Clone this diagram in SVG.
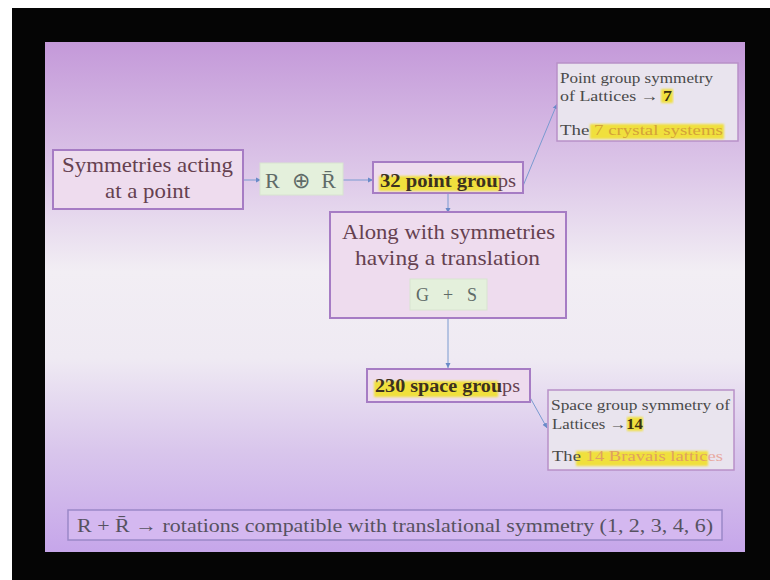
<svg xmlns="http://www.w3.org/2000/svg" width="770" height="580" viewBox="0 0 770 580">
<defs>
<linearGradient id="bg" x1="0" y1="0" x2="0" y2="1">
<stop offset="0" stop-color="#c499d9"/>
<stop offset="0.25" stop-color="#dcc6e8"/>
<stop offset="0.45" stop-color="#f2eef4"/>
<stop offset="0.62" stop-color="#efeaf3"/>
<stop offset="0.8" stop-color="#d9c6ec"/>
<stop offset="1" stop-color="#c6a6ea"/>
</linearGradient>
<marker id="ah" markerWidth="6" markerHeight="6" refX="5" refY="3" orient="auto" markerUnits="userSpaceOnUse">
<path d="M0,0.5 L5,3 L0,5.5 z" fill="#6a8ac8"/>
</marker>
<filter id="soft" x="-5%" y="-20%" width="110%" height="140%"><feGaussianBlur stdDeviation="0.9"/></filter>
</defs>
<style>
.box{fill:#eedcee;stroke:#a67cc4;stroke-width:2}
.gbox{fill:#e4f0dc;stroke:#d8e4d0;stroke-width:1}
.ibox{fill:#e9e4ee;stroke:#b890c8;stroke-width:1.5}
.main{font-family:"Liberation Serif",serif;fill:#654150}
.small{font-family:"Liberation Serif",serif;fill:#4a4a4a}
.hl{fill:#f0e03c;filter:url(#soft)}
.conn{stroke:#7a9ad0;stroke-width:1;fill:none;marker-end:url(#ah)}
</style>
<rect width="770" height="580" fill="#ffffff"/>
<rect x="12" y="8" width="758" height="572" fill="#050505"/>
<rect x="45" y="42" width="700" height="510" fill="url(#bg)"/>

<g id="connectors">
<line class="conn" x1="243" y1="180" x2="261" y2="180"/>
<line class="conn" x1="343" y1="180" x2="373" y2="180"/>
<line class="conn" x1="523" y1="186" x2="557" y2="104"/>
<line class="conn" x1="448" y1="193" x2="448" y2="213"/>
<line class="conn" x1="448" y1="318" x2="448" y2="368"/>
<line class="conn" x1="527" y1="392" x2="547" y2="428"/>
</g>

<g id="n-symmetries">
<rect class="box" x="53" y="150" width="190" height="59"/>
<text class="main" x="62" y="172" font-size="22" textLength="171" lengthAdjust="spacingAndGlyphs">Symmetries acting</text>
<text class="main" x="105" y="198" font-size="22" textLength="85" lengthAdjust="spacingAndGlyphs">at a point</text>
</g>

<g id="n-rr">
<rect class="gbox" x="260" y="163" width="83" height="32"/>
<text class="main" x="265" y="188" font-size="22" style="fill:#5f6b68" textLength="71" lengthAdjust="spacing">R ⊕ R̄</text>
</g>

<g id="n-32">
<rect class="box" x="373" y="162" width="150" height="31"/>
<rect class="hl" x="379" y="176" width="121" height="15"/>
<text class="main" x="380" y="187" font-size="18" textLength="136" lengthAdjust="spacingAndGlyphs"><tspan style="fill:#3c3020;font-weight:bold">32 point grou</tspan>ps</text>
</g>

<g id="n-point-lattice">
<rect class="ibox" x="557" y="63" width="181" height="78"/>
<rect class="hl" x="661" y="89" width="12" height="14"/>
<rect class="hl" x="590" y="124" width="134" height="15"/>
<text class="small" x="560" y="83" font-size="15" textLength="153" lengthAdjust="spacingAndGlyphs">Point group symmetry</text>
<text class="small" x="560" y="101" font-size="15" textLength="112" lengthAdjust="spacingAndGlyphs">of Lattices → <tspan font-weight="bold" fill="#3a3010">7</tspan></text>
<text class="small" x="560" y="135" font-size="15" textLength="163" lengthAdjust="spacingAndGlyphs">The <tspan fill="#d4a238">7 crystal systems</tspan></text>
</g>

<g id="n-along">
<rect class="box" x="330" y="212" width="236" height="106"/>
<text class="main" x="342" y="239" font-size="22" textLength="213" lengthAdjust="spacingAndGlyphs">Along with symmetries</text>
<text class="main" x="355" y="265" font-size="22" textLength="185" lengthAdjust="spacingAndGlyphs">having a translation</text>
<rect class="gbox" x="410" y="279" width="77" height="31"/>
<text class="main" x="416" y="301" font-size="18" style="fill:#5f6b68" textLength="61" lengthAdjust="spacing">G + S</text>
</g>

<g id="n-230">
<rect class="box" x="367" y="369" width="163" height="33"/>
<rect class="hl" x="374" y="381" width="124" height="16"/>
<text class="main" x="375" y="392" font-size="18" textLength="145" lengthAdjust="spacingAndGlyphs"><tspan style="fill:#3c3020;font-weight:bold">230 space grou</tspan>ps</text>
</g>

<g id="n-space-lattice">
<rect class="ibox" x="548" y="390" width="186" height="80"/>
<rect class="hl" x="627" y="417" width="16" height="14"/>
<rect class="hl" x="576" y="451" width="132" height="15"/>
<text class="small" x="551" y="410" font-size="14" textLength="179" lengthAdjust="spacingAndGlyphs">Space group symmetry of</text>
<text class="small" x="552" y="429" font-size="14" textLength="91" lengthAdjust="spacingAndGlyphs">Lattices →<tspan font-weight="bold" fill="#3a3010">14</tspan></text>
<text class="small" x="552" y="461" font-size="15" textLength="171" lengthAdjust="spacingAndGlyphs">The <tspan fill="#e0a060">14 Bravais lattic</tspan><tspan fill="#e8a8a0">es</tspan></text>
</g>

<g id="n-bottom">
<rect x="68" y="510" width="654" height="30" fill="#d4b8f0" stroke="#9a88c8" stroke-width="1.5"/>
<text class="small" x="77" y="532" font-size="19" style="fill:#565260" textLength="636" lengthAdjust="spacingAndGlyphs">R + R̄ → rotations compatible with translational symmetry (1, 2, 3, 4, 6)</text>
</g>
</svg>
